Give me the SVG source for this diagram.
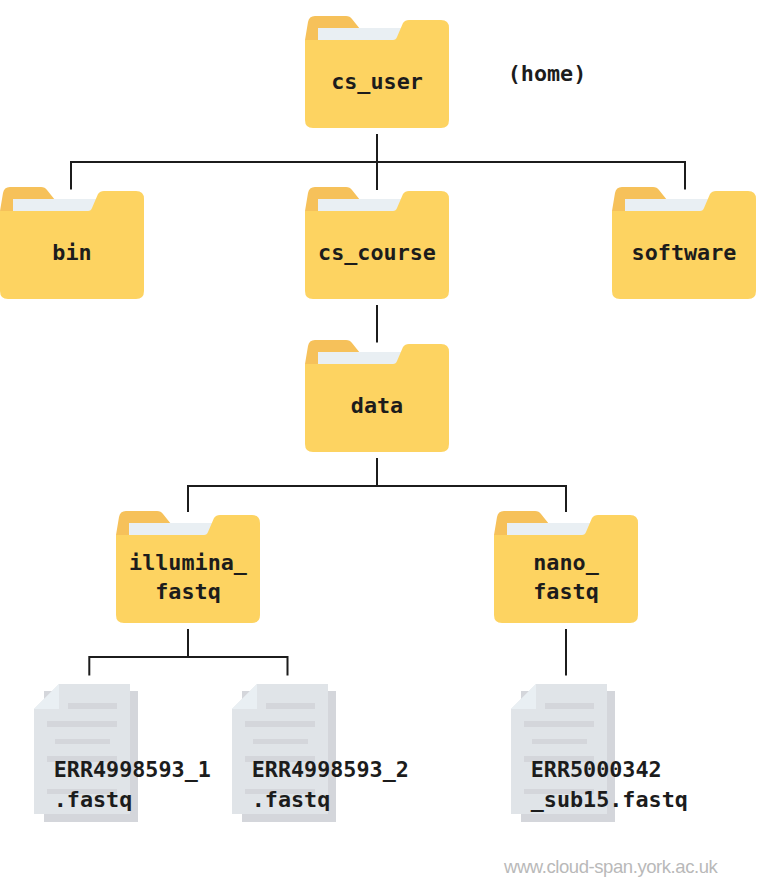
<svg xmlns="http://www.w3.org/2000/svg" width="757" height="878" viewBox="0 0 757 878">
<style>
.t{font-family:"DejaVu Sans Mono",monospace;font-weight:700;font-size:21.75px;fill:#1c1c1c;text-anchor:middle}
.l{font-family:"DejaVu Sans Mono",monospace;font-weight:700;font-size:21.75px;fill:#1c1c1c}
.c{fill:none;stroke:#1c1c1c;stroke-width:2}
.u{font-family:"Liberation Sans",Arial,sans-serif;font-size:18.5px;fill:#b9b9b9;letter-spacing:-.43px}
</style>
<defs>
<g id="folder">
<path d="M0 24L3 6Q4 0 10 0H41Q45 0 47 3L55 13V24Z" fill="#f6c15a"/>
<rect x="13" y="12" width="85" height="14" fill="#e9eff3"/>
<path d="M0 24H88Q91 24 92 21L98 7Q100 4 104 4H136Q144 4 144 12V104Q144 112 136 112H8Q0 112 0 104Z" fill="#fdd361"/>
</g>
<g id="doc">
<rect x="10" y="7" width="94" height="131" fill="#d4d6db"/>
<path d="M25 0H96V130H0V25Z" fill="#e0e4e8"/>
<path d="M25 0V25H0Z" fill="#e9eff3"/>
<path d="M34 19H83V25H34ZM13 37H83V43H13ZM21 55H76V60H21ZM13 72H83V78H13ZM13 105H83V110H13Z" fill="#d4d6db"/>
</g>
</defs>
<g id="connectors">
<path class="c" d="M377 134V190M71 189.500V162H685V189.500M377 305V342.500M377 458V486M188 512V486H566V512M188 629V657M89.300 675.500V657H287.500V675.500M566 629V675.500"/>
</g>
<g id="cs_user"><use href="#folder" x="305" y="16"/><text class="t" x="377" y="89">cs_user</text></g>
<g id="home_label"><text class="t" x="547" y="81">(home)</text></g>
<g id="bin"><use href="#folder" x="0" y="187"/><text class="t" x="72" y="260">bin</text></g>
<g id="cs_course"><use href="#folder" x="305" y="187"/><text class="t" x="377" y="260">cs_course</text></g>
<g id="software"><use href="#folder" x="612" y="187"/><text class="t" x="684" y="260">software</text></g>
<g id="data"><use href="#folder" x="305" y="340"/><text class="t" x="377" y="413">data</text></g>
<g id="illumina_fastq"><use href="#folder" x="116" y="511"/><text class="t" x="188" y="570">illumina_</text><text class="t" x="188" y="599">fastq</text></g>
<g id="nano_fastq"><use href="#folder" x="494" y="511"/><text class="t" x="566" y="570">nano_</text><text class="t" x="566" y="599">fastq</text></g>
<g id="file1"><use href="#doc" x="34" y="684"/><text class="l" x="53.700" y="777">ERR4998593_1</text><text class="l" x="53.700" y="807">.fastq</text></g>
<g id="file2"><use href="#doc" x="232" y="684"/><text class="l" x="251.700" y="777">ERR4998593_2</text><text class="l" x="251.700" y="807">.fastq</text></g>
<g id="file3"><use href="#doc" x="511" y="684"/><text class="l" x="530.700" y="777">ERR5000342</text><text class="l" x="530.700" y="807">_sub15.fastq</text></g>
<text class="u" x="504" y="873">www.cloud-span.york.ac.uk</text>
</svg>
